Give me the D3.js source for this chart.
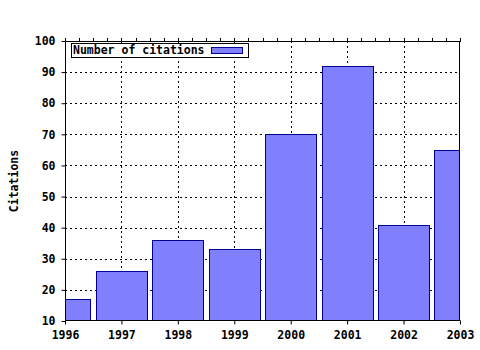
<!DOCTYPE html>
<html>
<head>
<meta charset="utf-8">
<script src="https://cdn.jsdelivr.net/npm/d3@7"></script>
<style>
  body { margin: 0; background: #fff; }
  text { font-family: "DejaVu Sans Mono", monospace; font-weight: bold; font-size: 11.5px; }
</style>
</head>
<body>
<svg id="chart"></svg>
<script>
var years = [1996, 1997, 1998, 1999, 2000, 2001, 2002, 2003];
var citations = [17, 26, 36, 33, 70, 92, 41, 65];
var yTicks = [10, 20, 30, 40, 50, 60, 70, 80, 90, 100];
var seriesName = "Number of citations";
var yLabel = "Citations";

function main() {
  var svgWidth = 480;
  var svgHeight = 350;
  var left = 65, right = 460, top = 41, bottom = 321;
  var svg = d3.select("#chart").attr("width", svgWidth).attr("height", svgHeight);

  var x = d3.scaleLinear().domain([1996, 2003]).range([left, right]);
  var y = d3.scaleLinear().domain([10, 100]).range([bottom, top]);
  var barWidth = (x(1997) - x(1996)) * 0.905;

  svg.append("clipPath").attr("id", "plotClip")
    .append("rect").attr("x", left).attr("y", top)
    .attr("width", right - left).attr("height", bottom - top);

  // grid
  var grid = svg.append("g").attr("stroke", "#000").attr("stroke-dasharray", "2,3").attr("stroke-width", 1);
  grid.selectAll(".hg").data(yTicks.slice(1, -1)).enter().append("line")
    .attr("x1", left).attr("x2", right)
    .attr("y1", (d) => Math.round(y(d)) + 0.5).attr("y2", (d) => Math.round(y(d)) + 0.5);
  grid.selectAll(".vg").data(years.slice(1, -1)).enter().append("line")
    .attr("y1", top).attr("y2", bottom)
    .attr("x1", (d) => Math.round(x(d)) + 0.5).attr("x2", (d) => Math.round(x(d)) + 0.5);

  // bars
  svg.append("g").attr("clip-path", "url(#plotClip)")
    .selectAll("rect").data(citations).enter().append("rect")
    .attr("x", (d, i) => Math.round(x(years[i]) - barWidth / 2) + 0.5)
    .attr("y", (d) => Math.round(y(d)) + 0.5)
    .attr("width", Math.round(barWidth))
    .attr("height", (d) => Math.round(y(10)) - Math.round(y(d)))
    .attr("fill", "#8080ff")
    .attr("stroke", "#000090")
    .attr("stroke-width", 1);

  // frame
  svg.append("rect").attr("x", left + 0.5).attr("y", top + 0.5)
    .attr("width", right - left - 1).attr("height", bottom - top - 1)
    .attr("fill", "none").attr("stroke", "#000");

  // y axis
  var yAxis = d3.axisLeft(y).tickValues(yTicks).tickSize(4).tickPadding(6);
  var yG = svg.append("g").attr("transform", `translate(${left + 0.5},0)`).call(yAxis);
  yG.select(".domain").remove();
  yG.selectAll("text").attr("font-size", null).attr("font-family", null);

  // x axis
  var xAxis = d3.axisBottom(x).tickValues(years).tickFormat(d3.format("d")).tickSize(4).tickPadding(6);
  var xG = svg.append("g").attr("transform", `translate(0,${bottom - 0.5})`).call(xAxis);
  xG.select(".domain").remove();
  xG.selectAll("text").attr("font-size", null).attr("font-family", null);

  // minor ticks on top edge
  var minor = d3.range(1996, 2003.001, 0.25);
  svg.append("g").selectAll("line").data(minor).enter().append("line")
    .attr("x1", (d) => Math.round(x(d)) + 0.5).attr("x2", (d) => Math.round(x(d)) + 0.5)
    .attr("y1", top - 3).attr("y2", top + 1)
    .attr("stroke", "#000");

  // y label
  svg.append("text")
    .attr("transform", `translate(18,${(top + bottom) / 2}) rotate(-90)`)
    .attr("text-anchor", "middle")
    .text(yLabel);

  // legend
  var lg = svg.append("g");
  lg.append("rect").attr("x", 71.5).attr("y", 43.5).attr("width", 177).attr("height", 14)
    .attr("fill", "#fff").attr("stroke", "#000");
  lg.append("text").attr("x", 73).attr("y", 54).text(seriesName);
  lg.append("rect").attr("x", 211.5).attr("y", 47.5).attr("width", 31).attr("height", 6)
    .attr("fill", "#8080ff").attr("stroke", "#000090");
}
main();
</script>
</body>
</html>
